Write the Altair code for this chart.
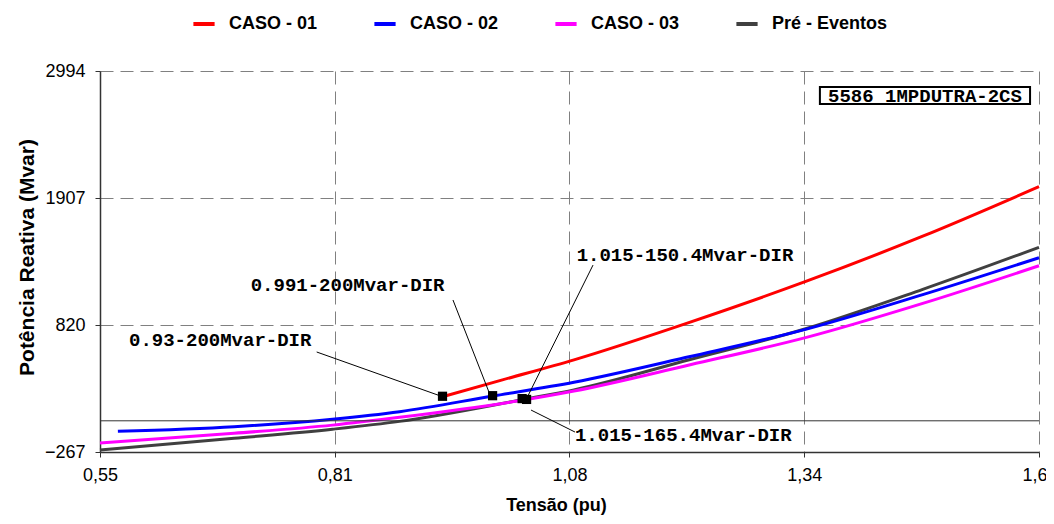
import altair as alt
import pandas as pd

# ---- data ----
series_names = ["CASO - 01", "CASO - 02", "CASO - 03", "Pré - Eventos"]
series_colors = ["#ff0000", "#0000ff", "#ff00ff", "#404040"]
draw_order = ["Pré - Eventos", "CASO - 03", "CASO - 02", "CASO - 01"]

caso01_x = [0.93, 1.0, 1.08, 1.21, 1.34, 1.47, 1.6]
caso01_y = [200, 350, 522, 845, 1195, 1580, 2004]

caso02_x = [0.57, 0.70, 0.81, 0.885, 0.989, 1.08, 1.21, 1.34, 1.47, 1.6]
caso02_y = [-90, -50, 14, 78, 212, 330, 550, 785, 1080, 1396]

caso03_x = [0.55, 0.70, 0.81, 0.885, 1.025, 1.08, 1.21, 1.34, 1.47, 1.6]
caso03_y = [-190, -107, -37, 30, 180, 255, 480, 714, 1005, 1327]

pre_x = [0.55, 0.70, 0.81, 0.885, 1.025, 1.08, 1.21, 1.34, 1.47, 1.6]
pre_y = [-250, -150, -72, -5, 185, 265, 525, 790, 1125, 1485]

x_ticks = [0.55, 0.8125, 1.075, 1.3375, 1.6]
x_tick_labels = ["0,55", "0,81", "1,08", "1,34", "1,6"]
y_ticks = [-267, 820, 1907, 2994]

marker_x = [0.933, 0.989, 1.022, 1.027]
marker_y = [210, 215, 190, 183]

ann_text = ["0.93-200Mvar-DIR", "0.991-200Mvar-DIR", "1.015-150.4Mvar-DIR", "1.015-165.4Mvar-DIR"]
ann_x = [0.5824, 0.7185, 1.083, 1.0811]
ann_y = [692, 1162, 1419, -121]

lead_x1 = [0.7923, 0.9447, 1.1013, 1.032]
lead_y1 = [589, 1034, 1333, 92]
lead_x2 = [0.928, 0.986, 1.028, 1.0811]
lead_y2 = [220, 225, 205, -96]

box_text = ["5586 1MPDUTRA-2CS"]
box_x = [1.355]
box_x2 = [1.590]
box_y = [2711]
box_y2 = [2857]
box_tx = [1.4725]
box_ty = [2782]

zero_line = [0]

# ---- tables ----
rows = []
for name, xs, ys in [
    ("CASO - 01", caso01_x, caso01_y),
    ("CASO - 02", caso02_x, caso02_y),
    ("CASO - 03", caso03_x, caso03_y),
    ("Pré - Eventos", pre_x, pre_y),
]:
    for xv, yv in zip(xs, ys):
        rows.append({"x": xv, "y": yv, "serie": name})
df_lines = pd.DataFrame(rows)
df_mark = pd.DataFrame({"x": marker_x, "y": marker_y})
df_ann = pd.DataFrame({"x": ann_x, "y": ann_y, "t": ann_text})
df_lead = pd.DataFrame({"x": lead_x1, "y": lead_y1, "x2": lead_x2, "y2": lead_y2})
df_box = pd.DataFrame({"x": box_x, "x2": box_x2, "y": box_y, "y2": box_y2,
                       "tx": box_tx, "ty": box_ty, "t": box_text})
df_zero = pd.DataFrame({"x": [0.55], "x2": [1.6], "y": zero_line})

SANS = "Liberation Sans"
MONO = "Liberation Mono"

xscale = alt.Scale(domain=[0.55, 1.6], nice=False, zero=False)
yscale = alt.Scale(domain=[-267, 2994], nice=False, zero=False)

label_expr = "[" + ",".join("'%s'" % s for s in x_tick_labels) + "][indexof([" + \
    ",".join(str(v) for v in x_ticks) + "], datum.value)]"

xaxis = alt.Axis(values=x_ticks, labelExpr=label_expr, title="Tensão (pu)",
                 labelFlush=False,
                 labelAlign={"condition": {"test": "datum.value >= 1.59", "value": "right"},
                             "value": "center"},
                 labelOffset={"condition": {"test": "datum.value >= 1.59", "value": 8},
                              "value": 0},
                 titleX=456, titleY=53, titleBaseline="middle", titleAlign="center")
yaxis = alt.Axis(values=y_ticks, format="d", title="Potência Reativa (Mvar)",
                 titleX=-73, titleY=186, titleBaseline="middle", titleAlign="center",
                 titleAngle=270, titleFontSize=21)


def X(field):
    return alt.X(field, type="quantitative", scale=xscale, axis=xaxis)


def Y(field):
    return alt.Y(field, type="quantitative", scale=yscale, axis=yaxis)


color = alt.Color("serie:N",
                  scale=alt.Scale(domain=series_names, range=series_colors),
                  legend=alt.Legend(orient="none", legendX=91, legendY=-60,
                                    direction="horizontal", title=None,
                                    symbolType="stroke", symbolStrokeWidth=4,
                                    symbolSize=450, labelFont=SANS, labelFontSize=18,
                                    labelFontWeight="bold", labelColor="black",
                                    columnPadding=48, labelOffset=12, labelLimit=300,
                                    padding=0))

base = alt.Chart(df_lines).encode(x=X("x"), y=Y("y"), color=color)

layers = []
for s in draw_order:
    layers.append(base.transform_filter(alt.datum.serie == s)
                  .mark_line(strokeWidth=3, interpolate="monotone"))

zero = alt.Chart(df_zero).mark_rule(color="#333333", strokeWidth=1).encode(
    x=X("x"), x2="x2:Q", y=Y("y"))
layers.append(zero)

leads = alt.Chart(df_lead).mark_rule(color="black", strokeWidth=1).encode(
    x=X("x"), y=Y("y"), x2="x2:Q", y2="y2:Q")
layers.append(leads)

marks = alt.Chart(df_mark).mark_square(size=85, color="black", opacity=1).encode(
    x=X("x"), y=Y("y"))
layers.append(marks)

ann = alt.Chart(df_ann).mark_text(font=MONO, fontSize=19, fontWeight="bold",
                                  align="left", baseline="middle", color="black").encode(
    x=X("x"), y=Y("y"), text="t:N")
layers.append(ann)

box = alt.Chart(df_box).mark_rect(fill="white", stroke="black", strokeWidth=2).encode(
    x=X("x"), x2="x2:Q", y=Y("y"), y2="y2:Q")
layers.append(box)

box_t = alt.Chart(df_box).mark_text(font=MONO, fontSize=19, fontWeight="bold",
                                    align="center", baseline="middle", color="black").encode(
    x=X("tx"), y=Y("ty"), text="t:N")
layers.append(box_t)

chart = alt.layer(*layers).properties(
    width=939, height=381,
    autosize=alt.AutoSizeParams(type="none"),
    padding={"left": 92, "top": 63, "right": 7, "bottom": 68},
    background="white",
).configure_view(strokeWidth=0).configure_axis(
    domainColor="#333333", domainWidth=1.5,
    tickColor="#333333", tickSize=5, tickWidth=1,
    grid=True, gridColor="#808080", gridDash=[13, 7], gridWidth=1,
    labelFont=SANS, labelFontSize=18, labelColor="black", labelPadding=9,
    titleFont=SANS, titleFontSize=18, titleFontWeight="bold", titleColor="black",
).configure_axisY(labelPadding=10)

chart.save("out.html", embed_options={"renderer": "svg", "actions": False})
